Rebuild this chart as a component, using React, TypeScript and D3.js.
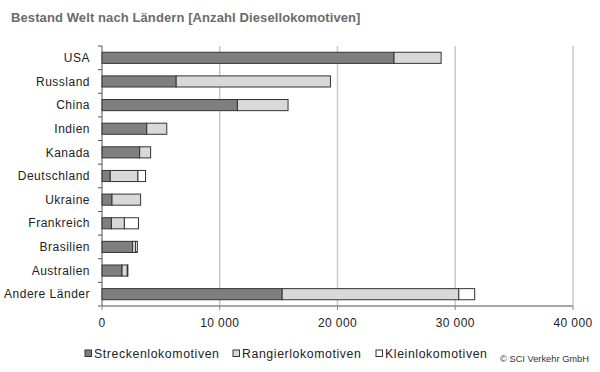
import React from "react";
import * as d3 from "d3";

const categories = ["USA", "Russland", "China", "Indien", "Kanada", "Deutschland", "Ukraine", "Frankreich", "Brasilien", "Australien", "Andere Länder"];
const strecken = [24800, 6300, 11500, 3800, 3200, 700, 850, 800, 2600, 1700, 15300];
const rangier = [4000, 13100, 4300, 1700, 930, 2350, 2430, 1100, 250, 450, 15000];
const klein = [0, 0, 0, 0, 0, 650, 0, 1200, 150, 50, 1350];
const seriesNames = ["Streckenlokomotiven", "Rangierlokomotiven", "Kleinlokomotiven"];
const xTicks = [0, 10000, 20000, 30000, 40000];
const colors = ["#7f7f7f", "#d9d9d9", "#ffffff"];

export default function App() {
  const W = 600, H = 372;
  const left = 102, right = 573, top = 46, bottom = 306;
  const x = d3.scaleLinear().domain([0, 40000]).range([left, right]);
  const y = d3.scaleBand<string>().domain(categories).range([top, bottom]).paddingInner(0.53).paddingOuter(0.265);
  const rows = categories.map((c, i) => ({ c, vals: [strecken[i], rangier[i], klein[i]] }));
  const fmt = (v: number) => (v === 0 ? "0" : d3.format(",")(v).replace(",", " "));
  const bandStep = (bottom - top) / categories.length;
  const boundaries = d3.range(categories.length + 1).map((i) => top + i * bandStep);
  const font = "'Liberation Sans', Arial, sans-serif";
  const legendX = [85, 233, 376];

  return (
    <svg width={W} height={H} style={{ position: "absolute", left: 0, top: 0 }} fontFamily={font}>
      <rect width={W} height={H} fill="#fff" />
      <text x={11} y={21.5} fontSize={13} fontWeight="bold" letterSpacing={0.1} fill="#6b6b6b">
        Bestand Welt nach Ländern [Anzahl Diesellokomotiven]
      </text>
      {xTicks.slice(1).map((t) => (
        <line key={t} x1={x(t)} x2={x(t)} y1={top} y2={bottom} stroke="#c8c8c8" strokeWidth={1.5} />
      ))}
      {rows.map((r) => {
        let acc = 0;
        return (
          <g key={r.c}>
            {r.vals.map((v, k) => {
              const x0 = acc;
              acc += v;
              if (v <= 0) return null;
              return (
                <rect key={k} x={x(x0)} y={y(r.c)!} width={x(x0 + v) - x(x0)} height={y.bandwidth()} fill={colors[k]} stroke="#333" strokeWidth={1} />
              );
            })}
            <text x={90} y={y(r.c)! + y.bandwidth() / 2} dy="0.35em" textAnchor="end" fontSize={12} letterSpacing={0.5} fill="#222">
              {r.c}
            </text>
          </g>
        );
      })}
      <line x1={left} x2={left} y1={top} y2={bottom} stroke="#555" strokeWidth={1} />
      {boundaries.map((b, i) => (
        <line key={i} x1={left - 4} x2={left} y1={b} y2={b} stroke="#555" strokeWidth={1} />
      ))}
      <line x1={left} x2={right} y1={bottom} y2={bottom} stroke="#888" strokeWidth={1.5} />
      {xTicks.map((t) => (
        <g key={t}>
          <line x1={x(t)} x2={x(t)} y1={bottom} y2={bottom + 4} stroke="#888" strokeWidth={1} />
          <text x={x(t)} y={327} textAnchor="middle" fontSize={12} letterSpacing={0.4} fill="#222">
            {fmt(t)}
          </text>
        </g>
      ))}
      {seriesNames.map((s, k) => (
        <g key={s}>
          <rect x={legendX[k]} y={350} width={6.5} height={6.5} fill={colors[k]} stroke="#333" strokeWidth={1} />
          <text x={legendX[k] + 9} y={357.5} fontSize={12.3} letterSpacing={0.6} fill="#222">
            {s}
          </text>
        </g>
      ))}
      <text x={500} y={362} fontSize={9.3} fill="#333">
        © SCI Verkehr GmbH
      </text>
    </svg>
  );
}
